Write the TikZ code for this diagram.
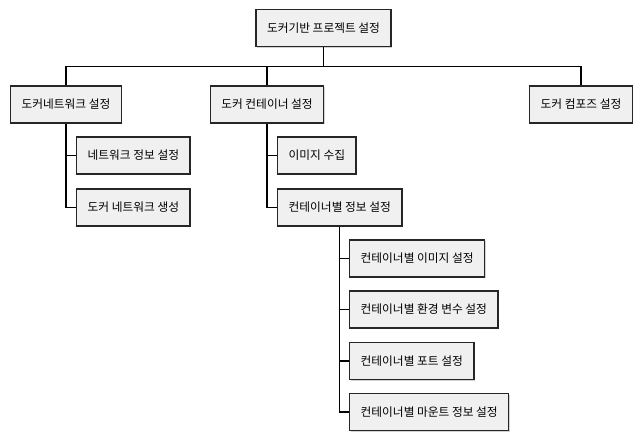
\documentclass[tikz,border=0pt]{standalone}
\usepackage{fontspec}
\newfontfamily\krfont{Noto Sans CJK KR}
\usetikzlibrary{shadows}
\begin{document}
\begin{tikzpicture}[x=1pt,y=1pt,
  box/.style={draw=black!85, line width=1.4pt, fill=black!6, minimum height=37pt,
    inner xsep=11pt, inner ysep=0pt, font=\krfont\fontsize{11.7}{14}\selectfont,
    drop shadow={shadow xshift=1pt, shadow yshift=-1pt, opacity=0.35, fill=black!50}},
  link/.style={draw=black, line width=1.4pt}]
\useasboundingbox (0,0) rectangle (643,-440);
\node[box] (root) at (323.5,-28) {도커기반 프로젝트 설정};
\node[box] (net) at (66,-104.5) {도커네트워크 설정};
\node[box] (cont) at (267,-104.5) {도커 컨테이너 설정};
\node[box] (comp) at (581,-104.5) {도커 컴포즈 설정};
\node[box, anchor=west] (netinfo) at (76,-155.5) {네트워크 정보 설정};
\node[box, anchor=west] (netgen) at (76,-207.5) {도커 네트워크 생성};
\node[box, anchor=west] (img) at (277,-155.5) {이미지 수집};
\node[box, anchor=west] (cinfo) at (277,-207.5) {컨테이너별 정보 설정};
\node[box, anchor=west] (c1) at (349,-258.5) {컨테이너별 이미지 설정};
\node[box, anchor=west] (c2) at (349,-309.5) {컨테이너별 환경 변수 설정};
\node[box, anchor=west] (c3) at (349,-361) {컨테이너별 포트 설정};
\node[box, anchor=west] (c4) at (349,-412) {컨테이너별 마운트 정보 설정};
\coordinate (bus) at (0,-66.5);
\draw[link] (root.south) -- (root.south |- bus);
\draw[link] (net.north) -- (net.north |- bus) -- (comp.north |- bus) -- (comp.north);
\draw[link] (cont.north) -- (cont.north |- bus);
\draw[link] (net.south) |- (netgen.west);
\draw[link] (net.south |- netinfo.west) -- (netinfo.west);
\draw[link] (cont.south) |- (cinfo.west);
\draw[link] (cont.south |- img.west) -- (img.west);
\draw[link] (cinfo.south) |- (c4.west);
\draw[link] (cinfo.south |- c1.west) -- (c1.west);
\draw[link] (cinfo.south |- c2.west) -- (c2.west);
\draw[link] (cinfo.south |- c3.west) -- (c3.west);
\end{tikzpicture}
\end{document}
